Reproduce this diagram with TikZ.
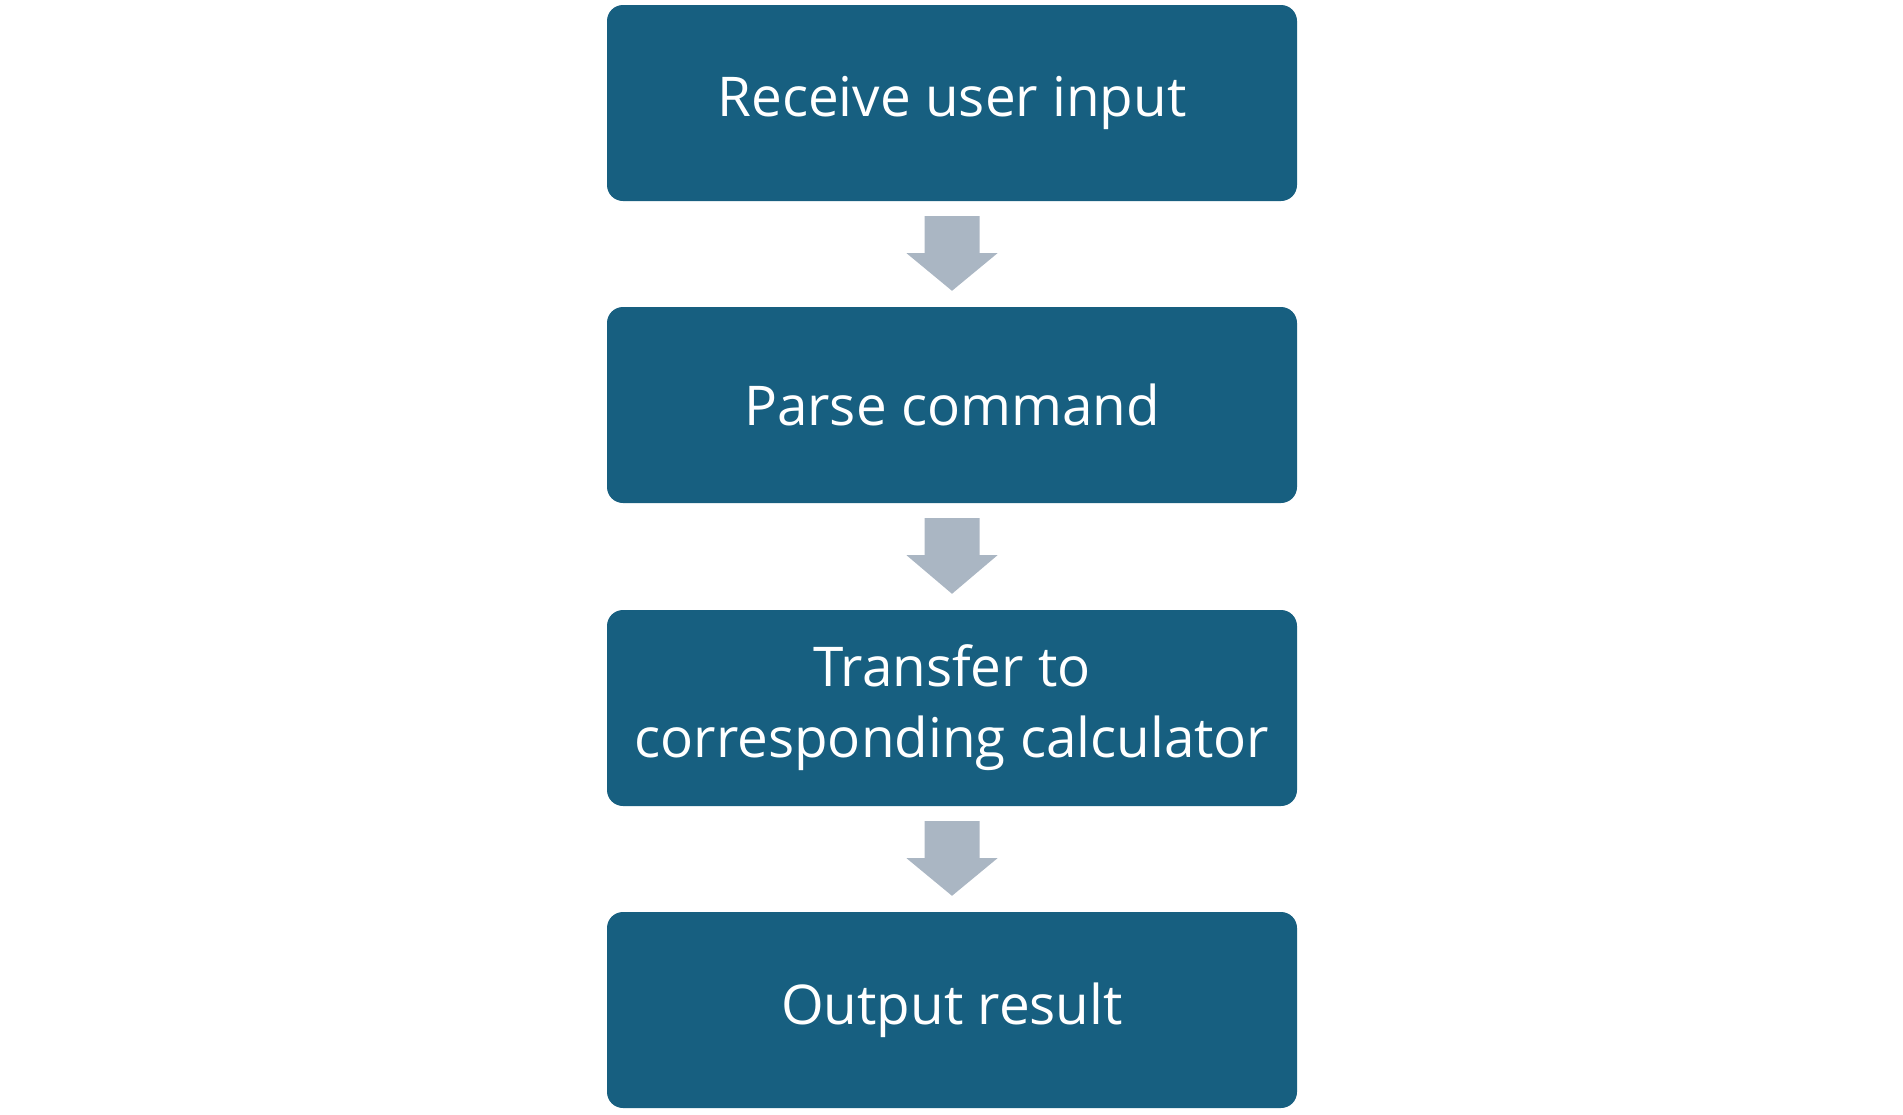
\documentclass[tikz,border=0pt]{standalone}
\usepackage{fontspec}
\setmainfont{Open Sans}
\usetikzlibrary{calc}
\definecolor{boxblue}{HTML}{175F80}
\definecolor{arrowgray}{HTML}{AAB6C3}
\tikzset{
  stepbox/.style={rectangle, rounded corners=16pt, fill=boxblue, text=white,
    minimum width=690pt, minimum height=196pt, inner sep=0pt, align=center,
    font=\fontsize{54.8}{71}\selectfont},
}
\newcommand{\blockarrow}[2]{%
  \fill[arrowgray] ($(#1.south)+(-27.5,15)$) -- ($(#1.south)+(27.5,15)$) -- ($(#1.south)+(27.5,52)$)
    -- ($(#1.south)+(45.5,52)$) -- ($(#2.north)+(0,-16)$) -- ($(#1.south)+(-45.5,52)$)
    -- ($(#1.south)+(-27.5,52)$) -- cycle;}
\begin{document}
\begin{tikzpicture}[x=1pt,y=-1pt]
\useasboundingbox (0,0) rectangle (1903,1114);
\node[stepbox] (a) at (952,103) {Receive user input};
\node[stepbox] (b) at (952,405) {Parse command};
\node[stepbox] (c) at (952,708) {Transfer to\\corresponding calculator};
\node[stepbox] (d) at (952,1010) {Output result};
\blockarrow{a}{b}
\blockarrow{b}{c}
\blockarrow{c}{d}
\end{tikzpicture}
\end{document}
